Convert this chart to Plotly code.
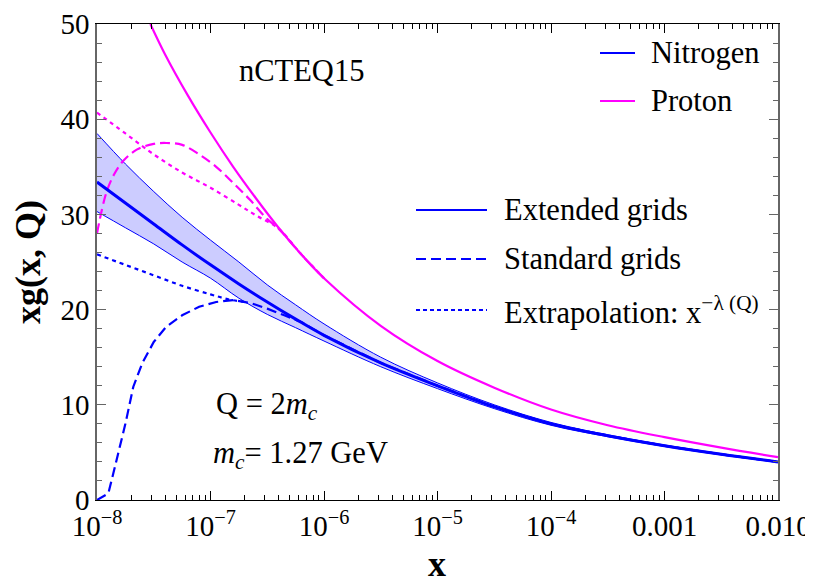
import numpy as np
import plotly.graph_objects as go

# ---------------- data (log10 x and xg values) ----------------
grid_lx = [-8, -7.75, -7.5, -7.25, -7.0, -6.75, -6.5, -6.25, -6.0, -5.5, -5.0, -4.5, -4.0, -3.5, -3.0, -2.5, -2.0]
n_central = [33.4, 31.2, 29.0, 26.8, 24.7, 22.7, 20.8, 19.0, 17.3, 14.4, 12.0, 9.8, 8.0, 6.75, 5.7, 4.8, 4.0]
n_upper = [38.5, 35.3, 32.4, 29.7, 27.3, 25.0, 22.6, 20.5, 18.5, 15.0, 12.3, 10.0, 8.15, 6.85, 5.78, 4.87, 4.05]
n_lower = [30.3, 28.6, 26.9, 25.0, 23.3, 21.2, 19.5, 18.1, 16.7, 14.0, 11.7, 9.6, 7.85, 6.65, 5.62, 4.73, 3.95]

n_std_lx = [-8, -7.9, -7.856, -7.8, -7.75, -7.68, -7.6, -7.5, -7.39, -7.25, -7.1, -6.95, -6.8, -6.65, -6.5, -6.35, -6.2,
            -6.0, -5.5, -5.0, -4.5, -4.0, -3.5, -3.0, -2.5, -2.0]
n_std = [0.0, 0.7, 2.8, 5.6, 8.0, 11.9, 14.4, 16.6, 18.2, 19.4, 20.3, 20.8, 21.0, 20.7, 20.1, 19.4, 18.7,
         17.3, 14.4, 12.0, 9.8, 8.0, 6.75, 5.7, 4.8, 4.0]

n_ext_lx = [-8, -7.75, -7.5, -7.25, -7.0, -6.85, -6.7]
n_ext = [25.8, 24.7, 23.6, 22.5, 21.6, 21.1, 20.8]

p_full_lx = [-7.53, -7.4, -7.2, -7.0, -6.8, -6.6, -6.4, -6.2, -6.0, -5.5, -5.0, -4.5, -4.0, -3.5, -3.0, -2.5, -2.0]
p_full = [50.0, 46.8, 42.5, 38.6, 35.0, 31.7, 28.6, 25.8, 23.3, 18.3, 14.6, 11.8, 9.5, 7.85, 6.6, 5.5, 4.5]

p_std_lx = [-8, -7.92, -7.85, -7.77, -7.65, -7.5, -7.39, -7.25, -7.1, -6.95, -6.8, -6.65, -6.5, -6.4, -6.2, -6.0]
p_std = [28.0, 32.2, 34.2, 35.6, 36.8, 37.4, 37.5, 37.3, 36.3, 35.0, 33.3, 31.5, 29.5, 28.5, 25.8, 23.3]

p_ext_lx = [-8, -7.75, -7.5, -7.25, -7.0, -6.75, -6.6, -6.4, -6.2, -6.0]
p_ext = [40.7, 38.5, 36.3, 34.4, 32.8, 31.0, 29.9, 28.5, 25.8, 23.3]

x_tickvals = [1e-8, 1e-7, 1e-6, 1e-5, 1e-4, 1e-3, 1e-2]
x_ticktext = ["10<sup>\u22128</sup>", "10<sup>\u22127</sup>", "10<sup>\u22126</sup>", "10<sup>\u22125</sup>",
              "10<sup>\u22124</sup>", "0.001", "0.010"]

BLUE = "#0000FF"
MAG = "#FF00FF"
FONT = "'Liberation Serif', 'Times New Roman', 'DejaVu Serif', serif"


def X(lx):
    return np.power(10.0, np.array(lx, dtype=float))


fig = go.Figure()

# nitrogen uncertainty band
fig.add_trace(go.Scatter(x=X(grid_lx), y=n_lower, mode="lines", line=dict(color=BLUE, width=1, shape="spline"),
                         showlegend=False, hoverinfo="skip"))
fig.add_trace(go.Scatter(x=X(grid_lx), y=n_upper, mode="lines", line=dict(color=BLUE, width=1, shape="spline"),
                         fill="tonexty", fillcolor="rgba(0,0,255,0.2)", showlegend=False, hoverinfo="skip"))

# proton curves
fig.add_trace(go.Scatter(x=X(p_full_lx), y=p_full, mode="lines", line=dict(color=MAG, width=2.2, shape="spline"),
                         showlegend=False))
fig.add_trace(go.Scatter(x=X(p_ext_lx), y=p_ext, mode="lines",
                         line=dict(color=MAG, width=2.2, dash="4px,4px", shape="spline"), showlegend=False))
fig.add_trace(go.Scatter(x=X(p_std_lx), y=p_std, mode="lines",
                         line=dict(color=MAG, width=2.2, dash="10px,5px", shape="spline"), showlegend=False))

# nitrogen curves
fig.add_trace(go.Scatter(x=X(grid_lx), y=n_central, mode="lines", line=dict(color=BLUE, width=3, shape="spline"),
                         showlegend=False))
fig.add_trace(go.Scatter(x=X(n_ext_lx), y=n_ext, mode="lines",
                         line=dict(color=BLUE, width=2.2, dash="4px,4px", shape="spline"), showlegend=False))
fig.add_trace(go.Scatter(x=X(n_std_lx), y=n_std, mode="lines",
                         line=dict(color=BLUE, width=2.2, dash="10px,5px"), showlegend=False))

# ---------------- layout (page body has an 8px margin, so the figure is shifted by it) ----------------
OFF = 8
W, H = 813 - OFF, 583 - OFF
L, R, T, B = 97, 778, 24, 500  # plot-area edges in window pixels


def px(xp):
    return (xp - L) / (R - L)


def py(yp):
    return (B - yp) / (B - T)


shapes = []
for (x0, x1, yp, col, dash) in [(600, 635, 53, BLUE, "solid"), (600, 635, 101, MAG, "solid"),
                                (416, 487, 210, BLUE, "solid"), (416, 487, 259, BLUE, "10px,5px"),
                                (416, 487, 310, BLUE, "4px,3px")]:
    shapes.append(dict(type="line", xref="paper", yref="paper", x0=px(x0), x1=px(x1), y0=py(yp), y1=py(yp),
                       line=dict(color=col, width=2, dash=dash)))

tf = dict(family=FONT, size=29, color="black")
ann = []
TS = 30.5


def add_text(text, xp, yp, xanchor="left", size=TS, angle=0):
    ann.append(dict(text=text, xref="paper", yref="paper", x=px(xp), y=py(yp), xanchor=xanchor, yanchor="middle",
                    showarrow=False, textangle=angle, font=dict(family=FONT, size=size, color="black")))


add_text("nCTEQ15", 301, 71, "center")
add_text("Nitrogen", 649, 53)
add_text("Proton", 649, 101)
add_text("Extended grids", 502, 210)
add_text("Standard grids", 502, 259)
add_text("Extrapolation: x<sup>\u2212\u03bb (Q)</sup>", 502, 310)
add_text("Q = 2<i>m<sub>c</sub></i>", 214, 406)
add_text("<i>m<sub>c</sub></i>= 1.27 GeV", 211, 455)
add_text("<b>xg(x, Q)</b>", 28, 262, "center", size=36, angle=-90)
add_text("<b>x</b>", 437, 564, "center", size=36)

minor_x = [k * 10.0 ** e for e in range(-8, -2) for k in range(2, 10)]

fig.update_layout(
    width=W, height=H,
    margin=dict(l=L - OFF, r=W - (R - OFF), t=T - OFF, b=H - (B - OFF), autoexpand=False),
    paper_bgcolor="white", plot_bgcolor="white",
    showlegend=False,
    font=dict(family=FONT),
    shapes=shapes, annotations=ann,
    xaxis=dict(type="log", range=[-8, -2], tickvals=x_tickvals, ticktext=x_ticktext, automargin=False,
               ticks="inside", ticklen=9, tickwidth=1, tickcolor="black",
               showline=True, linecolor="black", linewidth=1, mirror="ticks",
               showgrid=False, zeroline=False, tickfont=tf,
               minor=dict(tickvals=minor_x, ticks="inside", ticklen=5, tickcolor="black", showgrid=False)),
    yaxis=dict(range=[0, 50], tickvals=[0, 10, 20, 30, 40, 50], automargin=False,
               ticks="inside", ticklen=9, tickwidth=1, tickcolor="#666666",
               showline=True, linecolor="#666666", linewidth=1.5, mirror="ticks",
               showgrid=False, zeroline=False, tickfont=tf,
               minor=dict(dtick=2, ticks="inside", ticklen=5, tickcolor="#666666", showgrid=False)),
)

fig.write_html("out.html")
